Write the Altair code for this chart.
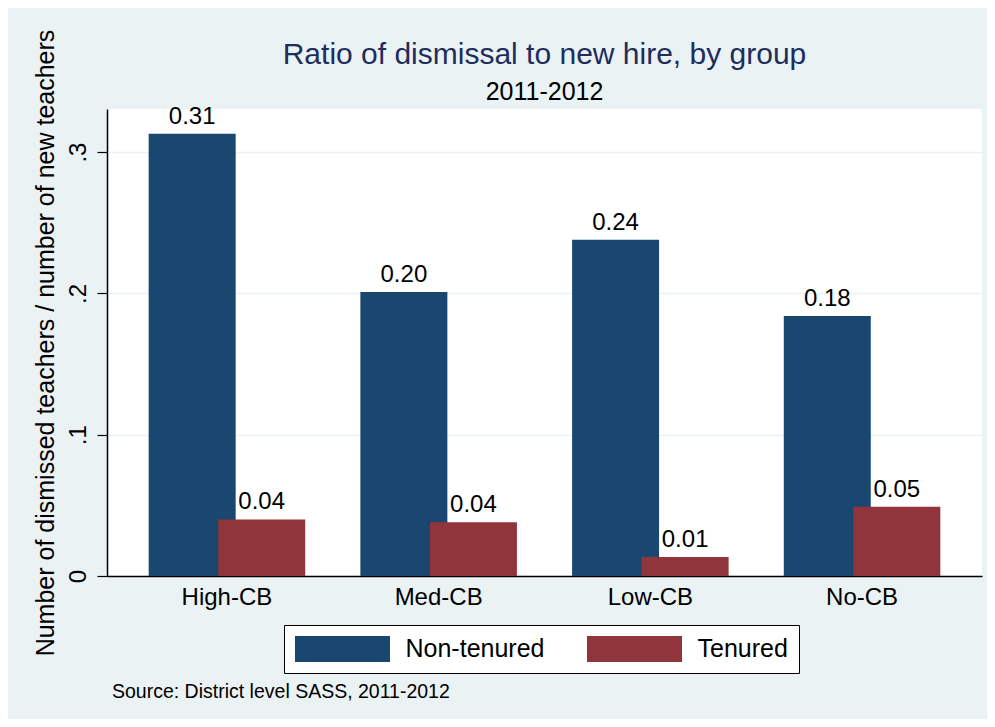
import altair as alt
import pandas as pd

groups = ["High-CB", "Med-CB", "Low-CB", "No-CB"]
series = ["Non-tenured", "Tenured"]
non_tenured = [0.313, 0.201, 0.238, 0.184]
tenured = [0.040, 0.038, 0.0135, 0.049]
value_labels_nt = ["0.31", "0.20", "0.24", "0.18"]
value_labels_t = ["0.04", "0.04", "0.01", "0.05"]
y_ticks = [0, 0.1, 0.2, 0.3]
source_note = ["Source: District level SASS, 2011-2012"]

rows = []
for i, g in enumerate(groups):
    rows.append({"group": g, "series": series[0], "value": non_tenured[i], "label": value_labels_nt[i], "order": 2 * i})
    rows.append({"group": g, "series": series[1], "value": tenured[i], "label": value_labels_t[i], "order": 2 * i + 1})
df = pd.DataFrame(rows)

FONT = "Liberation Sans"
W, H = 875, 467

x_enc = alt.X("group:N", sort=groups,
              scale=alt.Scale(paddingInner=0.343, paddingOuter=0.238),
              axis=alt.Axis(title=None, labelFontSize=24, labelFont=FONT, labelColor="black",
                            labelAngle=0, ticks=False, labelPadding=9, domainColor="black",
                            domainWidth=1.5, grid=False))
xo_enc = alt.XOffset("series:N", sort=series, scale=alt.Scale(paddingInner=0, paddingOuter=0))
y_enc = alt.Y("value:Q",
              scale=alt.Scale(domain=[0, 0.3305], nice=False, zero=True),
              axis=alt.Axis(title="Number of dismissed teachers / number of new teachers",
                            titleFontSize=25, titleFont=FONT, titleFontWeight="normal",
                            titleColor="black", titlePadding=8,
                            values=y_ticks, labelAngle=270, labelAlign="center",
                            labelBaseline="bottom",
                            labelExpr="datum.value == 0 ? '0' : replace(format(datum.value, '.1f'), '0.', '.')",
                            labelFontSize=24, labelFont=FONT, labelColor="black", labelPadding=7,
                            tickSize=10, tickColor="black", tickWidth=1.2,
                            domainColor="black", domainWidth=1.5,
                            grid=True, gridColor="#eaf2f3", gridWidth=1.5))
color_enc = alt.Color("series:N", sort=series,
                      scale=alt.Scale(domain=series, range=["#1a476f", "#90353b"]),
                      legend=alt.Legend(title=None, orient="none", legendX=177, legendY=516,
                                        direction="horizontal", columns=2,
                                        symbolType="M-3.654,-1H3.654V1H-3.654Z", symbolSize=676,
                                        symbolStrokeWidth=0, symbolOpacity=1, symbolOffset=34.5,
                                        labelFontSize=25, labelFont=FONT, labelColor="black",
                                        labelOffset=50, columnPadding=41,
                                        padding=11, strokeColor="black", fillColor="white",
                                        labelLimit=300))

bars = alt.Chart(df).mark_bar(width=87, opacity=1, stroke=None).encode(
    x=x_enc, xOffset=xo_enc, y=y_enc, color=color_enc,
    order=alt.Order("order:Q"),
)

labels = alt.Chart(df).mark_text(baseline="alphabetic", dy=-10, fontSize=24, font=FONT, color="black").encode(
    x=alt.X("group:N", sort=groups), xOffset=alt.XOffset("series:N", sort=series), y="value:Q", text="label:N"
)

note = alt.Chart(pd.DataFrame({"t": source_note})).mark_text(
    align="left", baseline="alphabetic", fontSize=19.5, font=FONT, color="black"
).encode(x=alt.value(5), y=alt.value(H + 122), text="t:N")

chart = alt.layer(bars, labels, note).properties(
    width=W, height=H,
    title=alt.TitleParams(
        text="Ratio of dismissal to new hire, by group",
        subtitle="2011-2012",
        fontSize=30, font=FONT, fontWeight="normal", color="#1e2d5c",
        subtitleFontSize=25, subtitleFont=FONT, subtitleColor="black",
        subtitlePadding=10, offset=-76, anchor="middle", frame="group",
    ),
    background="#eaf2f3",
    padding={"left": 99, "top": 101, "right": 5, "bottom": 143},
    autosize=alt.AutoSizeParams(type="none"),
).configure_view(fill="white", stroke=None)

chart.save("out.html", embed_options={"renderer": "svg", "actions": False})
